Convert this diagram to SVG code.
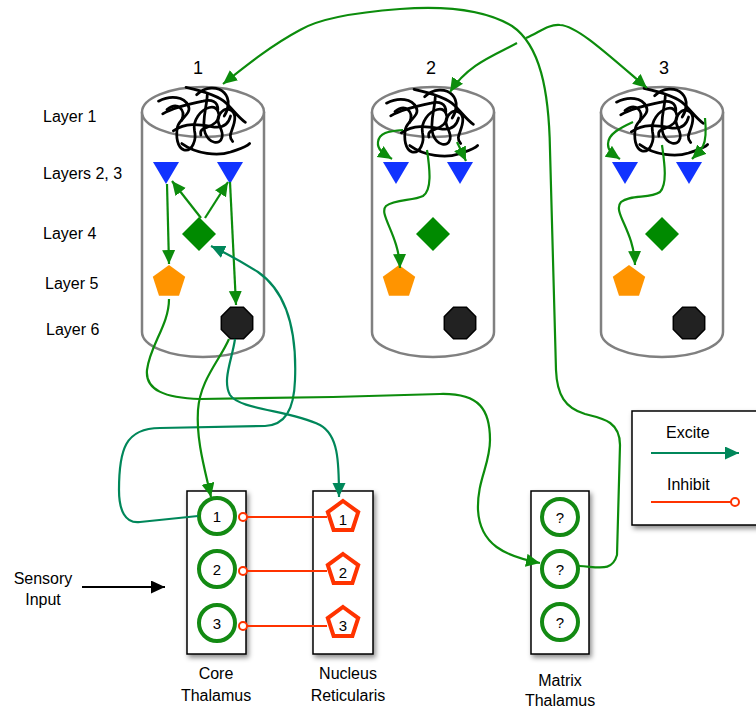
<svg xmlns="http://www.w3.org/2000/svg" xmlns:xlink="http://www.w3.org/1999/xlink" width="756" height="711" viewBox="0 0 756 711">
<style>
text{font-family:"Liberation Sans",Arial,sans-serif;fill:#000}
.lbl{font-size:16px}
.num{font-size:18px;text-anchor:middle}
.cn{font-size:15px;text-anchor:middle}
.ctr{text-anchor:middle}
.cyl{fill:#fff;stroke:#808080;stroke-width:2.5}
.tan path{fill:none;stroke:#000;stroke-width:2.6;stroke-linecap:round}
.tri{fill:#1133ff}
.dia{fill:#008a00}
.pent{fill:#ff9400}
.oct{fill:#222;stroke:#000;stroke-width:1.5}
.box{fill:#fff;stroke:#000;stroke-width:1.5}
.gc{fill:#fff;stroke:#138a13;stroke-width:4}
.rp{fill:#fff;stroke:#ff3300;stroke-width:4;stroke-linejoin:miter}
.g{fill:none;stroke:#0c8c0c;stroke-width:2.2}
.t{fill:none;stroke:#00875a;stroke-width:2.2}
.r{fill:none;stroke:#ff3300;stroke-width:2}
.k{fill:none;stroke:#000;stroke-width:2.2}
</style>
<defs>
<filter id="sh" x="-30%" y="-10%" width="160%" height="130%">
<feDropShadow dx="2" dy="3" stdDeviation="2.5" flood-color="#000" flood-opacity="0.45"/>
</filter>
<marker id="ag" markerUnits="userSpaceOnUse" markerWidth="16" markerHeight="14" refX="14" refY="6.5" orient="auto"><path d="M0,0 L14,6.5 L0,13 z" fill="#0c8c0c"/></marker>
<marker id="at" markerUnits="userSpaceOnUse" markerWidth="16" markerHeight="14" refX="14" refY="6.5" orient="auto"><path d="M0,0 L14,6.5 L0,13 z" fill="#00875a"/></marker>
<marker id="ak" markerUnits="userSpaceOnUse" markerWidth="16" markerHeight="14" refX="14" refY="6.5" orient="auto"><path d="M0,0 L14,6.5 L0,13 z" fill="#000"/></marker>
<marker id="ci" markerUnits="userSpaceOnUse" markerWidth="12" markerHeight="12" refX="6" refY="6" orient="auto"><circle cx="6" cy="6" r="4" fill="#fff" stroke="#ff3300" stroke-width="2"/></marker>
<g id="tangle" class="tan">
<path d="M-16,-27 C-2,-24 14,-20 22,-12 C30,-4 34,2 40,6"/>
<path d="M-42,-14 C-30,-20 -18,-18 -14,-10 C-10,-2 -22,2 -24,10 C-26,20 -24,30 -18,32 C-10,34 -6,22 -8,14 C-10,4 -2,-6 6,-8 C14,-10 18,0 12,6 C6,12 -4,10 -2,18"/>
<path d="M-38,-2 C-28,-8 -10,-12 0,-14 C8,-16 14,-14 14,-6"/>
<path d="M4,-20 C4,-10 -2,6 2,16 C6,26 16,28 18,20 C20,12 10,6 16,-2 C22,-10 30,-6 30,2 C30,12 22,18 28,24"/>
<path d="M-28,14 C-16,6 -4,8 8,10 C18,12 24,8 26,0"/>
<path d="M-20,26 C-6,36 14,38 26,34 C34,31 40,30 44,26"/>
<path d="M-6,-20 C2,-28 14,-28 20,-22 C26,-16 24,-6 20,0"/>
<path d="M-34,-6 C-24,-14 -16,-6 -20,4"/>
</g>
<polygon id="tri" points="-13,0 13,0 0,22"/>
<polygon id="dia" points="0,-17 17,0 0,17 -17,0"/>
<polygon id="pent" points="0,-17 16.2,-5.3 10,13.8 -10,13.8 -16.2,-5.3"/>
<polygon id="oct" points="6.5,-15.7 15.7,-6.5 15.7,6.5 6.5,15.7 -6.5,15.7 -15.7,6.5 -15.7,-6.5 -6.5,-15.7"/>
<polygon id="rpent" points="0,-16 15.2,-4.9 9.4,12.9 -9.4,12.9 -15.2,-4.9"/>
</defs>

<g id="labels">
<text class="lbl" x="43" y="122">Layer 1</text>
<text class="lbl" x="43" y="179">Layers 2, 3</text>
<text class="lbl" x="43" y="239">Layer 4</text>
<text class="lbl" x="45" y="289">Layer 5</text>
<text class="lbl" x="46" y="335">Layer 6</text>
</g>

<g id="column1">
<path class="cyl" d="M142,112 L142,332 A61,25 0 0 0 264,332 L264,112"/>
<ellipse class="cyl" cx="203" cy="112" rx="61" ry="25"/>
<use xlink:href="#tangle" href="#tangle" transform="translate(203,116) scale(1.06)"/>
<text class="num" x="198" y="74">1</text>
<use class="tri" href="#tri" xlink:href="#tri" transform="translate(166,162)"/>
<use class="tri" href="#tri" xlink:href="#tri" transform="translate(230,162)"/>
<use class="dia" href="#dia" xlink:href="#dia" transform="translate(199,234)"/>
<use class="pent" href="#pent" xlink:href="#pent" transform="translate(169,282)"/>
<use class="oct" href="#oct" xlink:href="#oct" transform="translate(237,323)"/>
</g>

<g id="column2">
<path class="cyl" d="M372,112 L372,332 A61,25 0 0 0 494,332 L494,112"/>
<ellipse class="cyl" cx="433" cy="112" rx="61" ry="25"/>
<use xlink:href="#tangle" href="#tangle" transform="translate(431,118) scale(1.06)"/>
<text class="num" x="431" y="74">2</text>
<use class="tri" href="#tri" xlink:href="#tri" transform="translate(396,162)"/>
<use class="tri" href="#tri" xlink:href="#tri" transform="translate(460,162)"/>
<use class="dia" href="#dia" xlink:href="#dia" transform="translate(433,234)"/>
<use class="pent" href="#pent" xlink:href="#pent" transform="translate(399,282)"/>
<use class="oct" href="#oct" xlink:href="#oct" transform="translate(460,323)"/>
</g>

<g id="column3">
<path class="cyl" d="M601,112 L601,332 A61,25 0 0 0 723,332 L723,112"/>
<ellipse class="cyl" cx="662" cy="112" rx="61" ry="25"/>
<use xlink:href="#tangle" href="#tangle" transform="translate(661,117) scale(1.06)"/>
<text class="num" x="664" y="74">3</text>
<use class="tri" href="#tri" xlink:href="#tri" transform="translate(625,162)"/>
<use class="tri" href="#tri" xlink:href="#tri" transform="translate(689,162)"/>
<use class="dia" href="#dia" xlink:href="#dia" transform="translate(662,234)"/>
<use class="pent" href="#pent" xlink:href="#pent" transform="translate(629,282)"/>
<use class="oct" href="#oct" xlink:href="#oct" transform="translate(689,323)"/>
</g>

<g id="core-thalamus">
<rect class="box" x="187" y="491" width="59" height="163" filter="url(#sh)"/>
<circle class="gc" cx="217" cy="516" r="18"/>
<circle class="gc" cx="217" cy="569" r="18"/>
<circle class="gc" cx="217" cy="623" r="18"/>
<text class="cn" x="217" y="522">1</text>
<text class="cn" x="217" y="575">2</text>
<text class="cn" x="217" y="629">3</text>
<text class="lbl ctr" x="216" y="679">Core</text>
<text class="lbl ctr" x="216" y="701">Thalamus</text>
</g>

<g id="nucleus-reticularis">
<rect class="box" x="313" y="491" width="60" height="163" filter="url(#sh)"/>
<use class="rp" href="#rpent" xlink:href="#rpent" transform="translate(343,517)"/>
<use class="rp" href="#rpent" xlink:href="#rpent" transform="translate(343,570)"/>
<use class="rp" href="#rpent" xlink:href="#rpent" transform="translate(343,623)"/>
<text class="cn" x="343" y="525">1</text>
<text class="cn" x="343" y="578">2</text>
<text class="cn" x="343" y="631">3</text>
<text class="lbl ctr" x="348" y="679">Nucleus</text>
<text class="lbl ctr" x="348" y="701">Reticularis</text>
</g>

<g id="matrix-thalamus">
<rect class="box" x="531" y="491" width="58" height="163" filter="url(#sh)"/>
<circle class="gc" cx="560" cy="517" r="18"/>
<circle class="gc" cx="560" cy="569" r="18"/>
<circle class="gc" cx="560" cy="622" r="18"/>
<text class="cn" x="560" y="523">?</text>
<text class="cn" x="560" y="575">?</text>
<text class="cn" x="560" y="628">?</text>
<text class="lbl ctr" x="560" y="686">Matrix</text>
<text class="lbl ctr" x="560" y="706">Thalamus</text>
</g>

<g id="sensory-input">
<text class="lbl ctr" x="43" y="584">Sensory</text>
<text class="lbl ctr" x="43" y="605">Input</text>
</g>

<g id="legend">
<rect class="box" x="632" y="411" width="140" height="114" filter="url(#sh)"/>
<text class="lbl" x="666" y="438">Excite</text>
<text class="lbl" x="667" y="490">Inhibit</text>
</g>

<g id="connectors">
<path class="t" d="M651,453 L739,453" marker-end="url(#at)"/>
<path class="r" d="M651,502 L735,502" marker-end="url(#ci)"/>
<path class="k" d="M82,587 L165,587" marker-end="url(#ak)"/>
<path class="r" d="M327,517 L243,517" marker-end="url(#ci)"/>
<path class="r" d="M327,571 L243,571" marker-end="url(#ci)"/>
<path class="r" d="M327,626 L243,626" marker-end="url(#ci)"/>
<path class="g" d="M579,566 C600,567 612,572 617,555 L620,445 C620,420 600,418 585,414 C565,408 557,395 556,370 L550,150 C549,90 540,45 512,26 C482,8 440,6 400,9 C360,12 320,18 300,30 C272,45 248,64 223,84" marker-end="url(#ag)"/>
<path class="g" d="M517,43 C495,55 468,64 450,92" marker-end="url(#ag)"/>
<path class="g" d="M526,38 C540,32 548,24 560,25 C577,26 605,52 647,88" marker-end="url(#ag)"/>
<path class="g" d="M167,184 L169,264" marker-end="url(#ag)"/>
<path class="g" d="M201,218 L172,181" marker-end="url(#ag)"/>
<path class="g" d="M205,218 L228,182" marker-end="url(#ag)"/>
<path class="g" d="M230,182 L236,305" marker-end="url(#ag)"/>
<path class="t" d="M198,516 L140,522 C125,524 119,510 119,490 C119,450 125,428 160,428 L265,426 C285,425 294,410 295,380 C297,330 287,292 258,272 C242,262 228,254 211,246" marker-end="url(#at)"/>
<path class="g" d="M169,299 C169,325 150,345 147,370 C145,390 165,398 200,399 L333,397 L440,394 C480,393 490,410 490,440 C490,465 477,480 478,510 C480,545 505,556 540,563" marker-end="url(#ag)"/>
<path class="g" d="M229,339 C220,360 200,380 198,410 C196,440 205,470 211,497" marker-end="url(#ag)"/>
<path class="t" d="M235,339 C232,360 222,380 230,395 C240,410 290,410 320,425 C338,435 339,460 339,497" marker-end="url(#at)"/>
<path class="g" d="M403,130 C388,131 379,133 378,142 C377,150 384,154 392,159" marker-end="url(#ag)"/>
<path class="g" d="M457,142 L466,161" marker-end="url(#ag)"/>
<path class="g" d="M427,150 C430,170 432,190 423,196 C413,201 395,199 386,206 C378,214 399,235 400,268" marker-end="url(#ag)"/>
<path class="g" d="M633,122 C620,128 608,134 608,144 C608,152 614,155 620,159" marker-end="url(#ag)"/>
<path class="g" d="M705,118 C706,128 706,140 703,146 C700,152 696,155 692,159" marker-end="url(#ag)"/>
<path class="g" d="M662,145 C664,160 668,184 660,192 C650,199 630,194 621,202 C612,212 634,230 635,265" marker-end="url(#ag)"/>
</g>
</svg>
